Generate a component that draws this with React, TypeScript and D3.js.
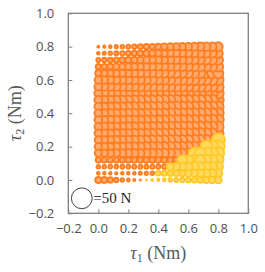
import { useRef, useEffect } from "react";
import * as d3 from "d3";

// grid of joint torques (Nm)
const tau1 = [0, 0.04, 0.08, 0.12, 0.16, 0.2, 0.24, 0.28, 0.32, 0.36, 0.4, 0.44, 0.48, 0.52, 0.56, 0.6, 0.64, 0.68, 0.72, 0.76, 0.8];
const tau2 = [0, 0.04, 0.08, 0.12, 0.16, 0.2, 0.24, 0.28, 0.32, 0.36, 0.4, 0.44, 0.48, 0.52, 0.56, 0.6, 0.64, 0.68, 0.72, 0.76, 0.8];

// fingertip force (N), one row per tau2 value (bottom row first), one entry per tau1 value
const forceRows = [
  [4.4, 4.1, 3.4, 2.3, 1.5, 1.1, 0.6, 0.2, 0.2, 0.5, 0.8, 1.2, 1.7, 2.1, 2.5, 2.9, 3.4, 4.0, 4.5, 5.1, 5.8],
  [1.0, 0.8, 0.8, 0.7, 0.8, 0.9, 1.0, 1.2, 1.4, 1.6, 2.7, 3.2, 3.7, 4.2, 4.8, 5.4, 6.1, 6.8, 7.5, 7.9, 8.3],
  [1.5, 1.5, 1.6, 1.6, 1.7, 1.7, 1.8, 1.8, 1.9, 2.0, 2.1, 2.2, 6.1, 6.8, 7.5, 8.3, 8.7, 9.1, 9.5, 10.0, 10.4],
  [3.2, 3.2, 3.3, 3.3, 3.4, 3.4, 3.5, 3.5, 3.6, 3.6, 3.7, 3.8, 3.9, 4.0, 10.9, 11.3, 11.8, 11.8, 12.3, 12.7, 13.2],
  [6.0, 6.3, 6.7, 7.0, 7.4, 7.7, 8.1, 8.4, 8.8, 9.1, 9.4, 9.7, 10.0, 10.3, 10.6, 10.9, 14.8, 14.8, 15.3, 15.9, 16.4],
  [6.2, 6.6, 6.9, 7.3, 7.6, 8.0, 8.3, 8.7, 9.0, 9.3, 9.6, 9.9, 10.2, 10.5, 10.8, 11.1, 11.4, 11.8, 17.5, 18.1, 18.7],
  [6.4, 6.8, 7.1, 7.5, 7.8, 8.2, 8.5, 8.9, 9.2, 9.5, 9.8, 10.1, 10.4, 10.7, 11.0, 11.3, 11.6, 11.9, 12.3, 12.7, 20.5],
  [6.6, 6.9, 7.3, 7.6, 8.0, 8.3, 8.7, 9.0, 9.3, 9.6, 9.9, 10.2, 10.5, 10.8, 11.1, 11.4, 11.7, 12.0, 12.4, 12.8, 13.2],
  [6.7, 7.1, 7.4, 7.8, 8.1, 8.5, 8.8, 9.2, 9.5, 9.8, 10.1, 10.4, 10.7, 11.0, 11.3, 11.6, 11.9, 12.2, 12.5, 12.9, 13.2],
  [6.9, 7.2, 7.6, 7.9, 8.3, 8.6, 9.0, 9.3, 9.6, 9.9, 10.2, 10.5, 10.8, 11.1, 11.4, 11.7, 12.0, 12.3, 12.6, 13.0, 13.3],
  [7.0, 7.4, 7.7, 8.1, 8.4, 8.8, 9.1, 9.5, 9.8, 10.1, 10.4, 10.7, 11.0, 11.3, 11.6, 11.9, 12.2, 12.5, 12.8, 13.1, 13.4],
  [7.2, 7.5, 7.9, 8.2, 8.6, 8.9, 9.3, 9.6, 9.9, 10.2, 10.5, 10.8, 11.1, 11.4, 11.7, 12.0, 12.3, 12.6, 12.9, 13.2, 13.5],
  [7.3, 7.6, 8.0, 8.3, 8.7, 9.0, 9.4, 9.7, 10.0, 10.3, 10.6, 10.9, 11.2, 11.5, 11.8, 12.1, 12.4, 12.7, 13.0, 13.3, 13.6],
  [7.4, 7.7, 8.1, 8.4, 8.8, 9.1, 9.5, 9.8, 10.1, 10.4, 10.7, 11.0, 11.3, 11.6, 11.9, 12.2, 12.5, 12.8, 13.1, 13.4, 13.6],
  [7.2, 7.5, 7.9, 8.2, 8.6, 8.9, 9.3, 9.6, 10.0, 10.3, 10.6, 10.9, 11.2, 11.5, 11.8, 12.1, 12.4, 12.7, 13.0, 13.2, 13.4],
  [6.5, 6.9, 7.2, 7.6, 7.9, 8.3, 8.6, 9.0, 9.3, 9.7, 10.0, 10.4, 10.7, 11.0, 11.3, 11.6, 11.9, 12.2, 12.5, 12.7, 12.9],
  [4.5, 5.1, 5.4, 5.8, 6.1, 6.5, 6.8, 7.2, 7.5, 7.9, 8.3, 8.7, 9.1, 9.5, 10.0, 10.4, 10.9, 11.3, 11.8, 11.8, 11.8],
  [3.2, 3.7, 4.2, 4.8, 5.1, 5.4, 5.8, 6.1, 6.5, 6.8, 7.2, 7.5, 7.9, 8.3, 8.7, 9.1, 9.5, 10.0, 10.4, 10.9, 11.3],
  [1.9, 2.3, 2.7, 3.2, 3.7, 4.2, 4.8, 5.4, 5.8, 6.1, 6.5, 6.8, 7.2, 7.5, 7.9, 8.3, 8.7, 9.1, 9.5, 10.0, 10.4],
  [0.9, 1.2, 1.5, 1.9, 2.3, 2.7, 3.2, 3.7, 4.2, 4.8, 5.4, 5.8, 6.1, 6.5, 6.8, 7.5, 7.9, 8.3, 8.7, 9.1, 9.5],
  [0.5, 0.7, 0.9, 1.2, 1.5, 1.9, 2.3, 2.7, 3.2, 3.7, 4.2, 4.8, 5.4, 5.8, 6.1, 6.8, 7.5, 7.9, 8.3, 8.7, 9.1],
];

// first tau1 index of each row that belongs to the yellow series
const yellowFrom = [8, 10, 12, 14, 16, 18, 20, 21, 21, 21, 21, 21, 21, 21, 21, 21, 21, 21, 21, 21, 21];

const axisTicks = [-0.2, 0, 0.2, 0.4, 0.6, 0.8, 1.0];
const legendForce = 50;

type Bubble = { t1: number; t2: number; f: number };

export default function App() {
  const svgRef = useRef<SVGSVGElement>(null);

  useEffect(() => {
    const svg = d3.select(svgRef.current);
    const width = 265;
    const height = 272;
    const margin = { top: 13.3, right: 16.7, bottom: 58.7, left: 68.3 };
    const innerWidth = width - margin.left - margin.right;
    const innerHeight = height - margin.top - margin.bottom;

    svg.selectAll("*").remove();
    svg.attr("width", width).attr("height", height);

    const g = svg.append("g").attr("transform", `translate(${margin.left},${margin.top})`);

    const x = d3.scaleLinear().domain([-0.2, 1.0]).range([0, innerWidth]);
    const y = d3.scaleLinear().domain([-0.2, 1.0]).range([innerHeight, 0]);
    const r = d3.scaleSqrt().domain([0, legendForce]).range([0, 10.4]);

    const orange: Bubble[] = [];
    const yellow: Bubble[] = [];
    forceRows.forEach((row, j) => {
      row.forEach((f, i) => {
        const b = { t1: tau1[i], t2: tau2[j], f };
        if (i >= yellowFrom[j]) yellow.push(b);
        else orange.push(b);
      });
    });
    // like Excel: bigger bubbles first so small ones stay visible
    orange.sort((a, b) => b.f - a.f);
    yellow.sort((a, b) => b.f - a.f);

    g.append("g")
      .selectAll("circle")
      .data(orange)
      .join("circle")
      .attr("cx", (d) => x(d.t1))
      .attr("cy", (d) => y(d.t2))
      .attr("r", (d) => r(d.f))
      .attr("fill", "#ffa96c")
      .attr("stroke", "#ff7d1e")
      .attr("stroke-width", 1.8);

    g.append("g")
      .selectAll("circle")
      .data(yellow)
      .join("circle")
      .attr("cx", (d) => x(d.t1))
      .attr("cy", (d) => y(d.t2))
      .attr("r", (d) => r(d.f))
      .attr("fill", "#ffd95a")
      .attr("stroke", "#ffc626")
      .attr("stroke-width", 1.6);

    // axes (ticks inside)
    const fmt = d3.format(".1f");
    const xAxis = g
      .append("g")
      .attr("transform", `translate(0,${innerHeight})`)
      .call(d3.axisBottom(x).tickValues(axisTicks).tickFormat((d) => fmt(d as number)).tickSizeInner(-4).tickSizeOuter(0).tickPadding(10));
    const yAxis = g
      .append("g")
      .call(d3.axisLeft(y).tickValues(axisTicks).tickFormat((d) => fmt(d as number)).tickSizeInner(-4).tickSizeOuter(0).tickPadding(14));

    [xAxis, yAxis].forEach((ax) => {
      ax.select(".domain").remove();
      ax.selectAll("line").attr("stroke", "#7f7f7f");
      ax.selectAll("text").attr("fill", "#505050").attr("font-family", "'Open Sans', sans-serif").attr("font-size", 13);
    });

    // frame
    g.append("rect")
      .attr("width", innerWidth)
      .attr("height", innerHeight)
      .attr("fill", "none")
      .attr("stroke", "#7f7f7f")
      .attr("stroke-width", 1.3);

    // axis titles
    const xt = g
      .append("text")
      .attr("x", innerWidth / 2)
      .attr("y", innerHeight + 46)
      .attr("text-anchor", "middle")
      .attr("fill", "#595959")
      .attr("font-family", "'Liberation Serif', serif")
      .attr("font-size", 18);
    xt.append("tspan").attr("font-style", "italic").text("τ");
    xt.append("tspan").attr("font-size", 12).attr("dy", 3).text("1");
    xt.append("tspan").attr("dy", -3).text(" (Nm)");

    const yt = g
      .append("text")
      .attr("transform", `translate(${-47},${innerHeight / 2}) rotate(-90)`)
      .attr("text-anchor", "middle")
      .attr("fill", "#595959")
      .attr("font-family", "'Liberation Serif', serif")
      .attr("font-size", 18);
    yt.append("tspan").attr("font-style", "italic").text("τ");
    yt.append("tspan").attr("font-size", 12).attr("dy", 3).text("2");
    yt.append("tspan").attr("dy", -3).text(" (Nm)");

    // size legend
    const legend = g.append("g").attr("transform", `translate(${x(-0.11)},${y(-0.11)})`);
    legend
      .append("circle")
      .attr("r", r(legendForce))
      .attr("fill", "white")
      .attr("stroke", "#404040")
      .attr("stroke-width", 1);
    legend
      .append("text")
      .attr("x", r(legendForce) + 1)
      .attr("dy", "0.33em")
      .attr("fill", "#262626")
      .attr("font-family", "'Liberation Serif', serif")
      .attr("font-size", 15)
      .text(`=${legendForce} N`);
  }, []);

  return <svg ref={svgRef} style={{ position: "absolute", left: 0, top: 0 }}></svg>;
}
